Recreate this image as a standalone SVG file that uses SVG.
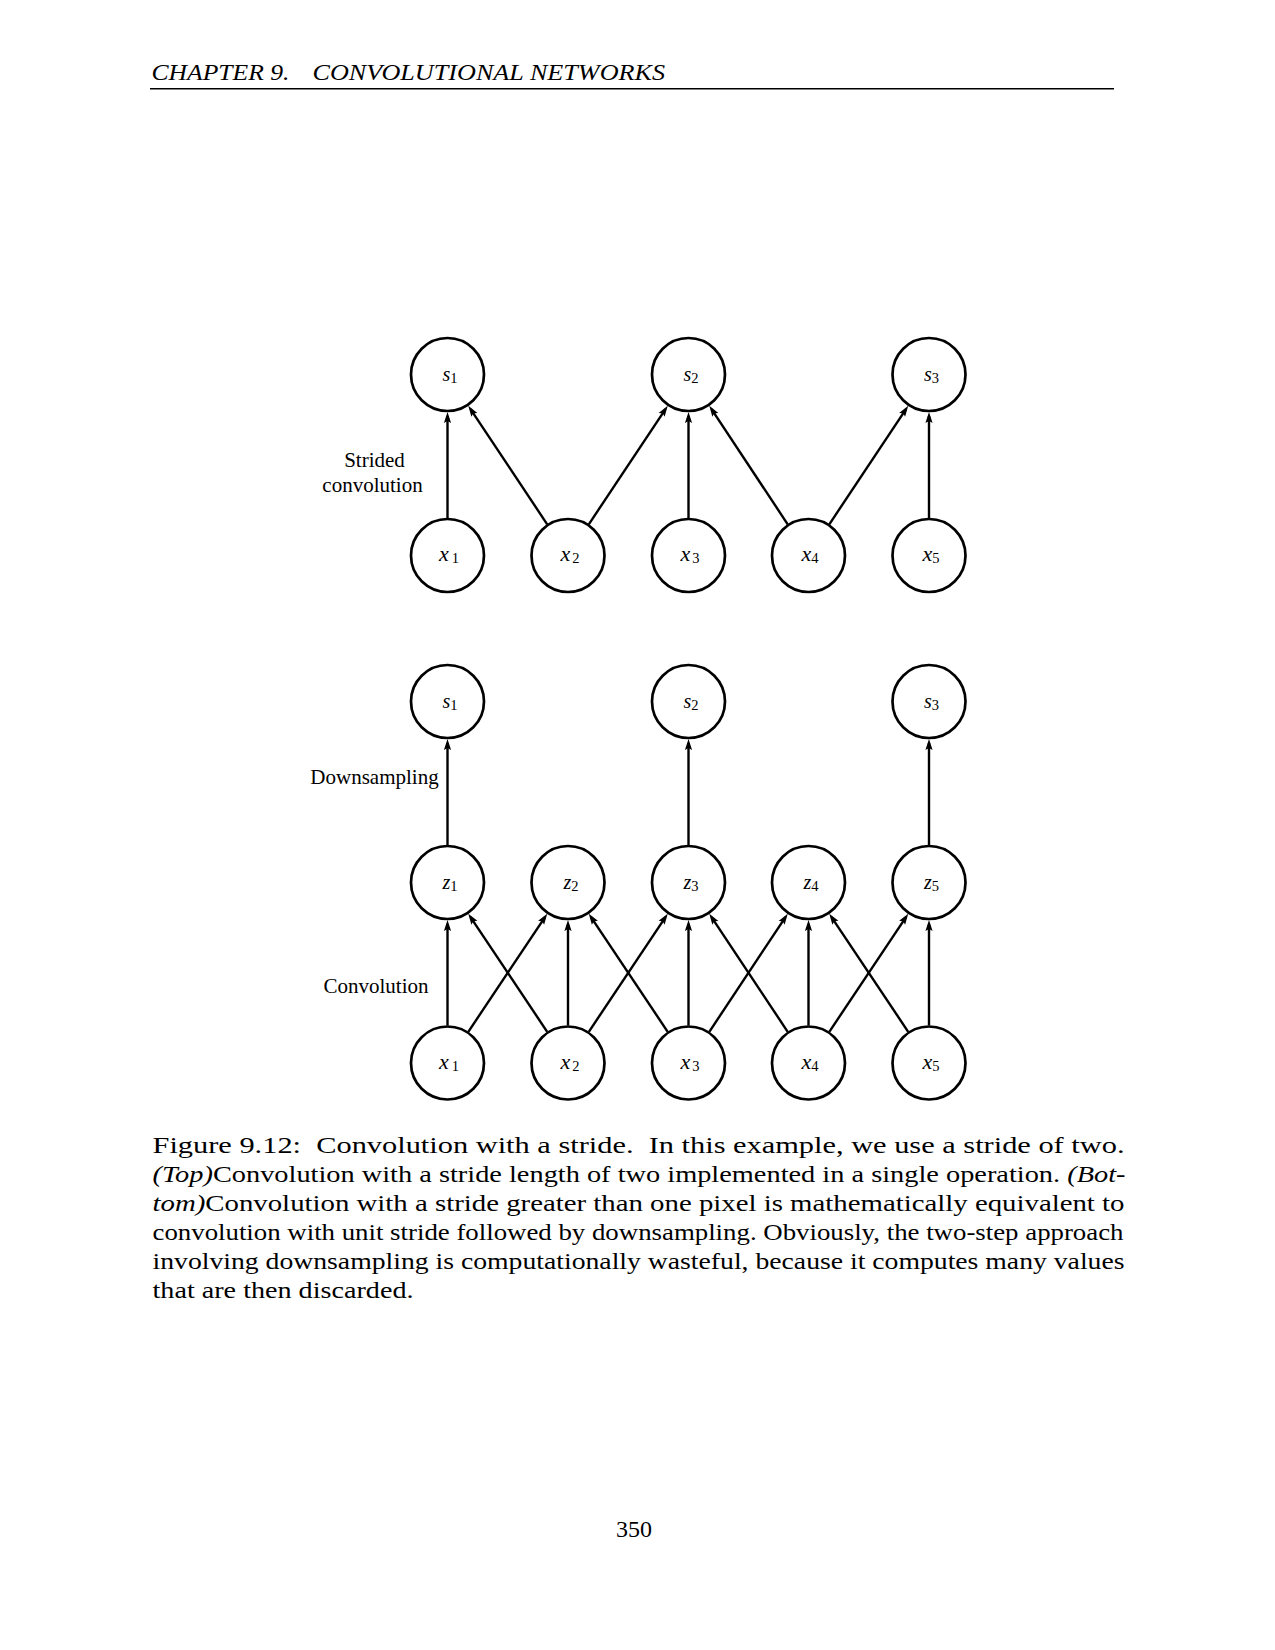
<svg xmlns="http://www.w3.org/2000/svg" width="1275" height="1650" viewBox="0 0 1275 1650">
  <defs>
    <style>
      .page { fill: #ffffff; }
      .node circle { fill: #ffffff; stroke: #000; stroke-width: 2.7; }
      .lbl { font-family: "Liberation Serif", "DejaVu Serif", serif; font-style: italic; font-size: 22px; text-anchor: middle; fill: #000; }
      .sm { font-size: 20px; }
      .sub { font-style: normal; font-size: 14.5px; }
      .edges line { stroke: #000; stroke-width: 2.4; marker-end: url(#ah); }
      .side { font-family: "Liberation Serif", "DejaVu Serif", serif; font-size: 21px; text-anchor: middle; fill: #000; }
      .body { font-family: "Liberation Serif", "DejaVu Serif", serif; font-size: 23.5px; fill: #000; }
      .it { font-style: italic; }
    </style>
    <marker id="ah" markerUnits="userSpaceOnUse" markerWidth="14" markerHeight="10" refX="7" refY="4" orient="auto" overflow="visible">
      <path d="M0,0.4 L11,4 L0,7.6 L2,4 Z" fill="#000"/>
    </marker>
  </defs>

  <rect class="page" x="0" y="0" width="1275" height="1650"/>

  <!-- running head -->
  <text class="body it" x="151.5" y="80" font-size="19.5" textLength="138" lengthAdjust="spacingAndGlyphs">CHAPTER 9.</text>
  <text class="body it" x="312.5" y="80" font-size="19.5" textLength="352.5" lengthAdjust="spacingAndGlyphs">CONVOLUTIONAL NETWORKS</text>
  <line x1="150" y1="88.8" x2="1114" y2="88.8" stroke="#000" stroke-width="1.4"/>

  <!-- connectors -->
  <g class="edges" id="edges">
    <!-- strided convolution -->
    <line x1="447.5" y1="518" x2="447.5" y2="416"/>
    <line x1="547.2" y1="524.3" x2="470.5" y2="409.05"/>
    <line x1="588.8" y1="524.3" x2="665.5" y2="409.05"/>
    <line x1="688.5" y1="518" x2="688.5" y2="416"/>
    <line x1="787.7" y1="524.3" x2="711.5" y2="409.05"/>
    <line x1="829.3" y1="524.3" x2="906" y2="409.05"/>
    <line x1="929" y1="518" x2="929" y2="416"/>
    <!-- downsampling -->
    <line x1="447.5" y1="845" x2="447.5" y2="743"/>
    <line x1="688.5" y1="845" x2="688.5" y2="743"/>
    <line x1="929" y1="845" x2="929" y2="743"/>
    <!-- unit-stride convolution -->
    <line x1="447.5" y1="1025.5" x2="447.5" y2="924"/>
    <line x1="468.3" y1="1031.8" x2="545" y2="917.05"/>
    <line x1="547.2" y1="1031.8" x2="470.5" y2="917.05"/>
    <line x1="568" y1="1025.5" x2="568" y2="924"/>
    <line x1="588.8" y1="1031.8" x2="665.5" y2="917.05"/>
    <line x1="667.7" y1="1031.8" x2="591" y2="917.05"/>
    <line x1="688.5" y1="1025.5" x2="688.5" y2="924"/>
    <line x1="709.3" y1="1031.8" x2="785.5" y2="917.05"/>
    <line x1="787.7" y1="1031.8" x2="711.5" y2="917.05"/>
    <line x1="808.5" y1="1025.5" x2="808.5" y2="924"/>
    <line x1="829.3" y1="1031.8" x2="906" y2="917.05"/>
    <line x1="908.2" y1="1031.8" x2="831.5" y2="917.05"/>
    <line x1="929" y1="1025.5" x2="929" y2="924"/>
  </g>

  <!-- top: strided convolution -->
  <g class="node" id="top-s1"><circle cx="447.5" cy="374.5" r="36.5"/><text class="lbl sm" x="450" y="381">s<tspan class="sub" dy="2">1</tspan></text></g>
  <g class="node" id="top-s2"><circle cx="688.5" cy="374.5" r="36.5"/><text class="lbl sm" x="691" y="381">s<tspan class="sub" dy="2">2</tspan></text></g>
  <g class="node" id="top-s3"><circle cx="929" cy="374.5" r="36.5"/><text class="lbl sm" x="931.5" y="381">s<tspan class="sub" dy="2">3</tspan></text></g>
  <g class="node" id="top-x1"><circle cx="447.5" cy="555.5" r="36.5"/><text class="lbl" x="449" y="561">x<tspan class="sub" dx="3" dy="2">1</tspan></text></g>
  <g class="node" id="top-x2"><circle cx="568" cy="555.5" r="36.5"/><text class="lbl" x="570" y="561">x<tspan class="sub" dx="2" dy="2">2</tspan></text></g>
  <g class="node" id="top-x3"><circle cx="688.5" cy="555.5" r="36.5"/><text class="lbl" x="690" y="561">x<tspan class="sub" dx="2" dy="2">3</tspan></text></g>
  <g class="node" id="top-x4"><circle cx="808.5" cy="555.5" r="36.5"/><text class="lbl" x="810" y="561">x<tspan class="sub" dy="2">4</tspan></text></g>
  <g class="node" id="top-x5"><circle cx="929" cy="555.5" r="36.5"/><text class="lbl" x="931" y="561">x<tspan class="sub" dy="2">5</tspan></text></g>

  <text class="side" x="374.5" y="467">Strided</text>
  <text class="side" x="372.5" y="492">convolution</text>

  <!-- bottom: convolution then downsampling -->
  <g class="node" id="bot-s1"><circle cx="447.5" cy="701.5" r="36.5"/><text class="lbl sm" x="450" y="708">s<tspan class="sub" dy="2">1</tspan></text></g>
  <g class="node" id="bot-s2"><circle cx="688.5" cy="701.5" r="36.5"/><text class="lbl sm" x="691" y="708">s<tspan class="sub" dy="2">2</tspan></text></g>
  <g class="node" id="bot-s3"><circle cx="929" cy="701.5" r="36.5"/><text class="lbl sm" x="931.5" y="708">s<tspan class="sub" dy="2">3</tspan></text></g>
  <g class="node" id="bot-z1"><circle cx="447.5" cy="882.5" r="36.5"/><text class="lbl sm" x="450" y="889">z<tspan class="sub" dy="2">1</tspan></text></g>
  <g class="node" id="bot-z2"><circle cx="568" cy="882.5" r="36.5"/><text class="lbl sm" x="571" y="889">z<tspan class="sub" dy="2">2</tspan></text></g>
  <g class="node" id="bot-z3"><circle cx="688.5" cy="882.5" r="36.5"/><text class="lbl sm" x="691" y="889">z<tspan class="sub" dy="2">3</tspan></text></g>
  <g class="node" id="bot-z4"><circle cx="808.5" cy="882.5" r="36.5"/><text class="lbl sm" x="811" y="889">z<tspan class="sub" dy="2">4</tspan></text></g>
  <g class="node" id="bot-z5"><circle cx="929" cy="882.5" r="36.5"/><text class="lbl sm" x="931.5" y="889">z<tspan class="sub" dy="2">5</tspan></text></g>
  <g class="node" id="bot-x1"><circle cx="447.5" cy="1063" r="36.5"/><text class="lbl" x="449" y="1069">x<tspan class="sub" dx="3" dy="2">1</tspan></text></g>
  <g class="node" id="bot-x2"><circle cx="568" cy="1063" r="36.5"/><text class="lbl" x="570" y="1069">x<tspan class="sub" dx="2" dy="2">2</tspan></text></g>
  <g class="node" id="bot-x3"><circle cx="688.5" cy="1063" r="36.5"/><text class="lbl" x="690" y="1069">x<tspan class="sub" dx="2" dy="2">3</tspan></text></g>
  <g class="node" id="bot-x4"><circle cx="808.5" cy="1063" r="36.5"/><text class="lbl" x="810" y="1069">x<tspan class="sub" dy="2">4</tspan></text></g>
  <g class="node" id="bot-x5"><circle cx="929" cy="1063" r="36.5"/><text class="lbl" x="931" y="1069">x<tspan class="sub" dy="2">5</tspan></text></g>

  <text class="side" x="374.5" y="784">Downsampling</text>
  <text class="side" x="376" y="993">Convolution</text>

  <!-- caption -->
  <text class="body" x="152.5" y="1153" textLength="972" lengthAdjust="spacingAndGlyphs" xml:space="preserve">Figure 9.12:  Convolution with a stride.  In this example, we use a stride of two.</text>
  <text class="body" x="152.5" y="1182" textLength="973" lengthAdjust="spacingAndGlyphs"><tspan class="it">(Top)</tspan>Convolution with a stride length of two implemented in a single operation. <tspan class="it">(Bot-</tspan></text>
  <text class="body" x="152.5" y="1211" textLength="972" lengthAdjust="spacingAndGlyphs"><tspan class="it">tom)</tspan>Convolution with a stride greater than one pixel is mathematically equivalent to</text>
  <text class="body" x="152.5" y="1240" textLength="971" lengthAdjust="spacingAndGlyphs">convolution with unit stride followed by downsampling. Obviously, the two-step approach</text>
  <text class="body" x="152.5" y="1269" textLength="972" lengthAdjust="spacingAndGlyphs">involving downsampling is computationally wasteful, because it computes many values</text>
  <text class="body" x="152.5" y="1298" textLength="261" lengthAdjust="spacingAndGlyphs">that are then discarded.</text>

  <!-- folio -->
  <text class="body" x="616" y="1537" font-size="22" textLength="36" lengthAdjust="spacingAndGlyphs">350</text>
</svg>
